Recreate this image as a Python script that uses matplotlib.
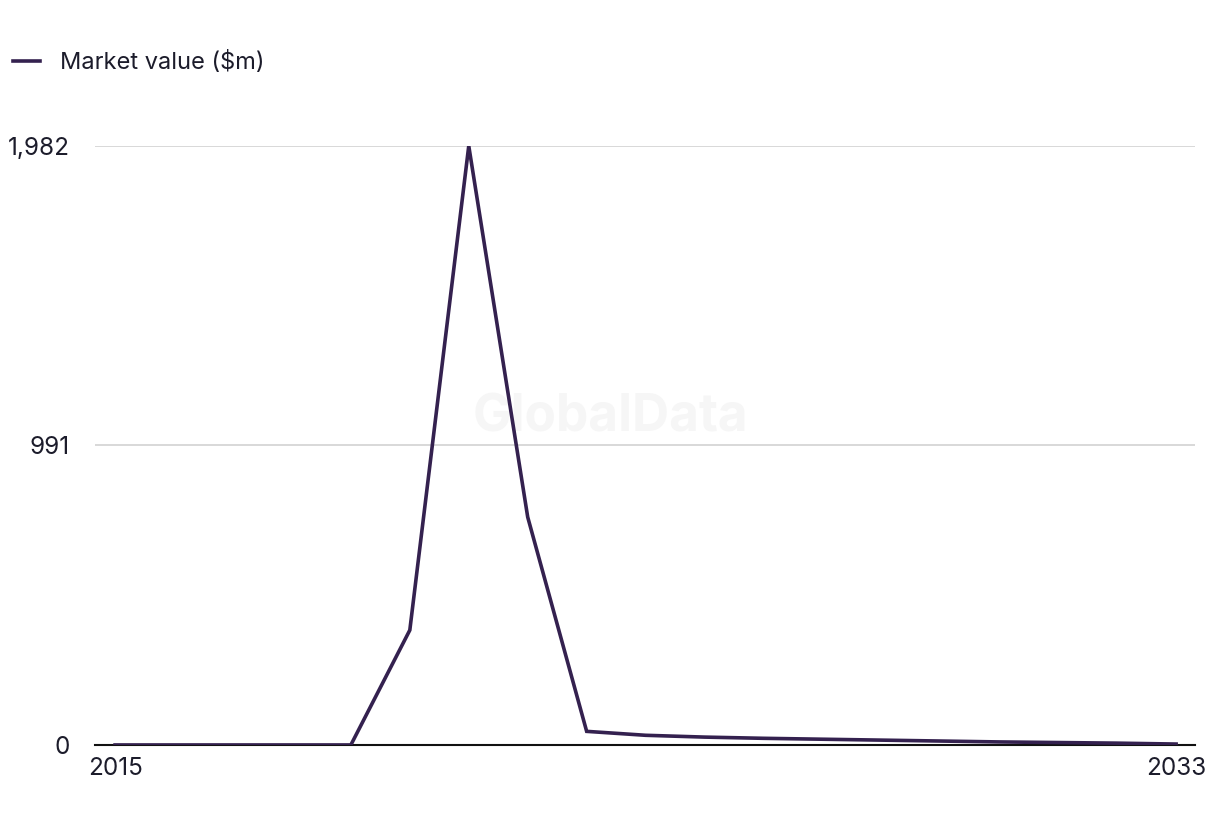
import matplotlib.pyplot as plt
import numpy as np

# market value series
years = list(range(2015, 2034))
values = [0, 0, 0, 0, 0, 380, 1982, 754, 45, 32, 26, 22, 19, 16, 13, 10, 8, 6, 3]
ytick_vals = [0, 991, 1982]
ytick_labels = ["0", "991", "1,982"]
xtick_vals = [2015, 2033]

line_color = "#34214f"
text_color = "#1c1c2b"

plt.rcParams['font.family'] = ['Inter', 'DejaVu Sans']

fig = plt.figure(figsize=(12.2, 8.36), dpi=100)
ax = fig.add_axes([0.0779, 0.1089, 0.9016, 0.7165])

ax.plot(years, values, color=line_color, linewidth=2.6, solid_joinstyle='miter',
        label="Market value ($m)", zorder=3)

ax.set_xlim(2014.66, 2033.32)
ax.set_ylim(0, 1982)

ax.set_yticks(ytick_vals)
ax.set_yticklabels(ytick_labels)
ax.set_xticks(xtick_vals)
ax.set_xticklabels([str(x) for x in xtick_vals])
ax.tick_params(axis='both', length=0, labelsize=17.5, colors=text_color)
ax.tick_params(axis='y', pad=18)
ax.tick_params(axis='x', pad=9)

# gridlines
for v in ytick_vals[1:]:
    ax.axhline(v, color="#d6d6d6", linewidth=1.3, zorder=1)

for s in ['top', 'right', 'left']:
    ax.spines[s].set_visible(False)
ax.spines['bottom'].set_color("#111111")
ax.spines['bottom'].set_linewidth(1.5)
ax.spines['bottom'].set_zorder(2)

# watermark, kept under the line
ax.text(0.5, 1 - 418 / 836, "GlobalData", transform=fig.transFigure,
        ha='center', va='center', fontsize=37, fontweight='bold',
        color="#f6f6f6", zorder=0)

fig.legend(loc='upper left', bbox_to_anchor=(-0.0066, 0.964), frameon=False,
           fontsize=17, handlelength=1.15, handletextpad=0.85, labelcolor=text_color)

fig.savefig("out.png", dpi=100)
